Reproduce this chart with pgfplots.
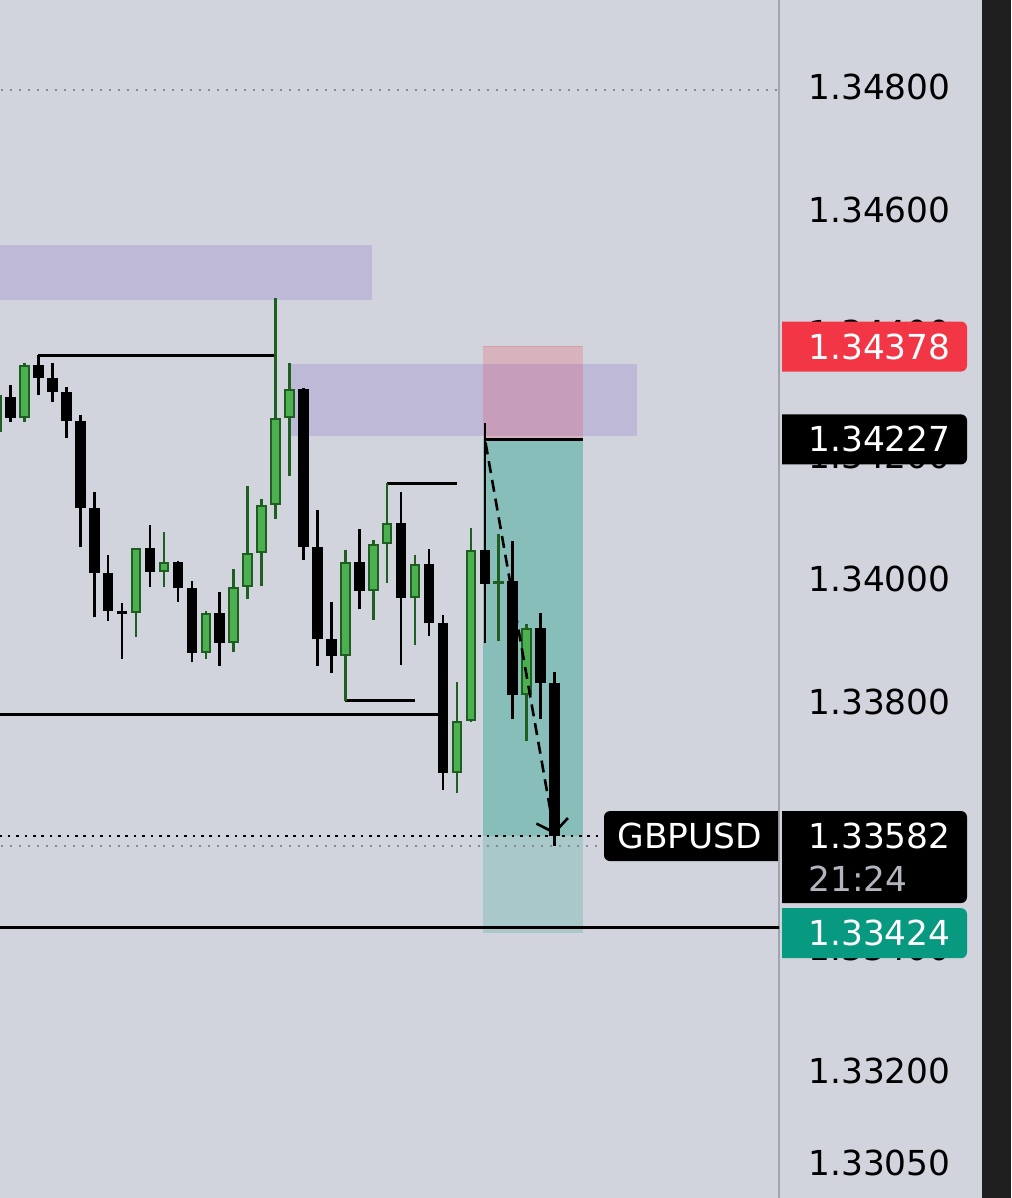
\documentclass[border=0pt]{standalone}
\usepackage{pgfplots}
\pgfplotsset{compat=1.18}
\usepackage{pgfplotstable}
\usepackage{fontspec}
\usetikzlibrary{arrows.meta}
\setmainfont{DejaVu Sans}
\newcommand\pricefont{\fontsize{17.2}{20}\selectfont}

\definecolor{chartbg}{RGB}{209,212,220}
\definecolor{bullfill}{RGB}{76,175,80}
\definecolor{bulledge}{RGB}{30,94,32}
\definecolor{zonepurple}{RGB}{112,80,190}
\definecolor{stopred}{RGB}{242,54,69}
\definecolor{targetteal}{RGB}{8,153,129}
\definecolor{scalegray}{RGB}{160,164,172}
\definecolor{dotgray}{RGB}{135,138,146}
\definecolor{sidebar}{RGB}{31,31,31}
\definecolor{timegray}{RGB}{178,181,190}

% GBPUSD candles: index, open, high, low, close
\pgfplotstableread{
i  o       h       l       c
-1 1.34239 1.34304 1.34234 1.34299
0  1.34296 1.34315 1.34255 1.34262
1  1.34262 1.34351 1.34255 1.34348
2  1.34348 1.34364 1.34299 1.34327
3  1.34327 1.34351 1.34288 1.34304
4  1.34304 1.34312 1.34229 1.34257
5  1.34257 1.34267 1.34052 1.34115
6  1.34115 1.34141 1.33938 1.34010
7  1.34010 1.34039 1.33932 1.33948
8  1.33948 1.33961 1.33870 1.33943
9  1.33945 1.34050 1.33906 1.34050
10 1.34050 1.34088 1.33987 1.34011
11 1.34011 1.34076 1.33987 1.34028
12 1.34028 1.34029 1.33963 1.33985
13 1.33985 1.33997 1.33865 1.33880
14 1.33880 1.33948 1.33870 1.33945
15 1.33945 1.33979 1.33859 1.33896
16 1.33896 1.34016 1.33881 1.33987
17 1.33987 1.34151 1.33967 1.34042
18 1.34042 1.34130 1.33989 1.34120
19 1.34120 1.34457 1.34098 1.34262
20 1.34262 1.34351 1.34168 1.34309
21 1.34309 1.34310 1.34031 1.34052
22 1.34052 1.34112 1.33859 1.33902
23 1.33902 1.33963 1.33847 1.33875
24 1.33875 1.34047 1.33802 1.34028
25 1.34028 1.34081 1.33951 1.33981
26 1.33981 1.34063 1.33933 1.34057
27 1.34057 1.34156 1.33994 1.34091
28 1.34091 1.34141 1.33860 1.33969
29 1.33969 1.34039 1.33893 1.34024
30 1.34024 1.34049 1.33907 1.33928
31 1.33928 1.33941 1.33657 1.33685
32 1.33685 1.33833 1.33652 1.33769
33 1.33769 1.34083 1.33768 1.34047
34 1.34047 1.34254 1.33896 1.33992
35 1.33992 1.34073 1.33899 1.33997
36 1.33997 1.34062 1.33772 1.33811
37 1.33811 1.33927 1.33737 1.33920
38 1.33920 1.33945 1.33772 1.33831
39 1.33831 1.33849 1.33566 1.33582
}\candles

\pgfplotsset{
  bull/.style={restrict expr to domain={\thisrow{c}-\thisrow{o}}{0:1}},
  bear/.style={restrict expr to domain={\thisrow{o}-\thisrow{c}}{0:1}},
  candlepart/.style={forget plot, only marks, mark size=0pt,
    mark options={draw=none, fill=none},
    error bars/y dir=plus, error bars/y explicit, error bars/error mark=none},
}

\begin{document}
\begin{tikzpicture}
\fill[chartbg] (0,0) rectangle (505.5pt,599pt);
\begin{axis}[
  at={(0pt,0pt)}, anchor=south west,
  scale only axis, width=389.5pt, height=599pt,
  xmin=-0.7527, xmax=55.09, ymin=1.329935, ymax=1.349415,
  axis x line=none, axis y line*=right,
  y axis line style={draw=scalegray, line width=1.25pt, -},
  ytick={1.3305,1.332,1.334,1.338,1.340,1.342,1.344,1.346,1.348},
  major tick length=0pt,
  scaled y ticks=false,
  yticklabel style={font=\pricefont, text=black, anchor=west, inner sep=0pt, xshift=14.5pt,
    /pgf/number format/.cd, fixed, fixed zerofill, precision=5, assume math mode=true},
  unbounded coords=discard,
  clip=true,
]
% supply / demand zones
\addplot[draw=none, fill=zonepurple, fill opacity=0.2, forget plot]
  coordinates {(-2,1.34454) (25.91,1.34454) (25.91,1.34543) (-2,1.34543)} --cycle;
\addplot[draw=none, fill=zonepurple, fill opacity=0.2, forget plot]
  coordinates {(20.04,1.34233) (44.9,1.34233) (44.9,1.34350) (20.04,1.34350)} --cycle;

% short position: stop and target areas
\addplot[draw=none, fill=stopred, fill opacity=0.2, forget plot]
  coordinates {(33.87,1.34227) (41.04,1.34227) (41.04,1.34378) (33.87,1.34378)} --cycle;
\addplot[stopred, opacity=0.35, line width=0.6pt, forget plot]
  coordinates {(33.87,1.34378) (41.04,1.34378)};
\addplot[draw=none, fill=targetteal, fill opacity=0.2, forget plot]
  coordinates {(33.87,1.33424) (41.04,1.33424) (41.04,1.34227) (33.87,1.34227)} --cycle;
\addplot[draw=none, fill=targetteal, fill opacity=0.2, forget plot]
  coordinates {(33.87,1.33582) (41.04,1.33582) (41.04,1.34227) (33.87,1.34227)} --cycle;

% price lines
\addplot[dotgray, line width=1.1pt, dash pattern=on 1.3pt off 3.2pt, forget plot]
  coordinates {(-2,1.34795) (56,1.34795)};
\addplot[dotgray, line width=1.1pt, dash pattern=on 1.3pt off 3.2pt, forget plot]
  coordinates {(-2,1.33566) (56,1.33566)};
\addplot[black, line width=1.2pt, dash pattern=on 1.3pt off 2.9pt, forget plot]
  coordinates {(-2,1.33582) (56,1.33582)};

% horizontal levels
\addplot[black, line width=1.5pt, forget plot] coordinates {(2,1.34364) (19,1.34364)};
\addplot[black, line width=1.5pt, forget plot] coordinates {(27,1.34156) (32,1.34156)};
\addplot[black, line width=1.5pt, forget plot] coordinates {(24,1.33802) (29,1.33802)};
\addplot[black, line width=1.5pt, forget plot] coordinates {(-2,1.33780) (31,1.33780)};
\addplot[black, line width=1.5pt, forget plot] coordinates {(-2,1.33433) (56,1.33433)};

% wicks
\addplot[bull, candlepart, error bars/error bar style={draw=bulledge, line width=1.3pt}]
  table[x=i, y=l, y error expr=\thisrow{h}-\thisrow{l}] {\candles};
\addplot[bear, candlepart, error bars/error bar style={draw=black, line width=1.3pt}]
  table[x=i, y=l, y error expr=\thisrow{h}-\thisrow{l}] {\candles};
% bodies
\addplot[bull, candlepart, error bars/error bar style={draw=bulledge, line width=5.3pt}]
  table[x=i, y=o, y error expr=\thisrow{c}-\thisrow{o}] {\candles};
\addplot[restrict expr to domain={\thisrow{c}-\thisrow{o}}{0.00007:1}, candlepart,
  error bars/error bar style={draw=bullfill, line width=3.3pt, shorten <=1pt, shorten >=1pt}]
  table[x=i, y=o, y error expr=\thisrow{c}-\thisrow{o}] {\candles};
\addplot[bear, candlepart, error bars/error bar style={draw=black, line width=5.3pt}]
  table[x=i, y=c, y error expr=\thisrow{o}-\thisrow{c}] {\candles};

% entry level and projected path
\addplot[black, line width=1.5pt, forget plot] coordinates {(34,1.34227) (41.04,1.34227)};
\addplot[black, line width=1.3pt, dash pattern=on 6pt off 3.5pt,
  -{Straight Barb[length=6pt,width=16pt]}, forget plot]
  coordinates {(34.05,1.34222) (39.0,1.33585)};

\coordinate (tagStop)   at (axis cs:55.09,1.34378);
\coordinate (tagEntry)  at (axis cs:55.09,1.34227);
\coordinate (tagLast)   at (axis cs:55.09,1.33582);
\coordinate (tagTarget) at (axis cs:55.09,1.33424);
\end{axis}

% price scale tags
\newcommand\pricetag[3]{%
  \fill[#2] ([shift={(1.5pt,-12.5pt)}]#1) -- ([shift={(1.5pt,12.5pt)}]#1)
    [rounded corners=3pt] -- ([shift={(94pt,12.5pt)}]#1) -- ([shift={(94pt,-12.5pt)}]#1)
    [sharp corners] -- cycle;
  \node[anchor=west, inner sep=0pt, text=white, font=\pricefont] at ([xshift=14.5pt]#1) {#3};}
\pricetag{tagStop}{stopred}{1.34378}
\pricetag{tagEntry}{black}{1.34227}
\pricetag{tagTarget}{targetteal}{1.33424}

\fill[black] ([shift={(1.5pt,-33.5pt)}]tagLast) -- ([shift={(1.5pt,12.5pt)}]tagLast)
  [rounded corners=3pt] -- ([shift={(94pt,12.5pt)}]tagLast) -- ([shift={(94pt,-33.5pt)}]tagLast)
  [sharp corners] -- cycle;
\node[anchor=west, inner sep=0pt, text=white, font=\pricefont] at ([xshift=14.5pt]tagLast) {1.33582};
\node[anchor=west, inner sep=0pt, text=timegray, font=\pricefont] at ([shift={(14.5pt,-21.5pt)}]tagLast) {21:24};

\fill[black] ([shift={(-0.5pt,-12.5pt)}]tagLast) -- ([shift={(-0.5pt,12.5pt)}]tagLast)
  [rounded corners=3pt] -- ([shift={(-87.5pt,12.5pt)}]tagLast) -- ([shift={(-87.5pt,-12.5pt)}]tagLast)
  [sharp corners] -- cycle;
\node[anchor=west, inner sep=0pt, text=white, font=\pricefont] at ([xshift=-81pt]tagLast) {GBPUSD};

\fill[sidebar] (491pt,0) rectangle (505.5pt,599pt);
\pgfresetboundingbox
\useasboundingbox (0,0) rectangle (505.5pt,599pt);
\end{tikzpicture}
\end{document}
